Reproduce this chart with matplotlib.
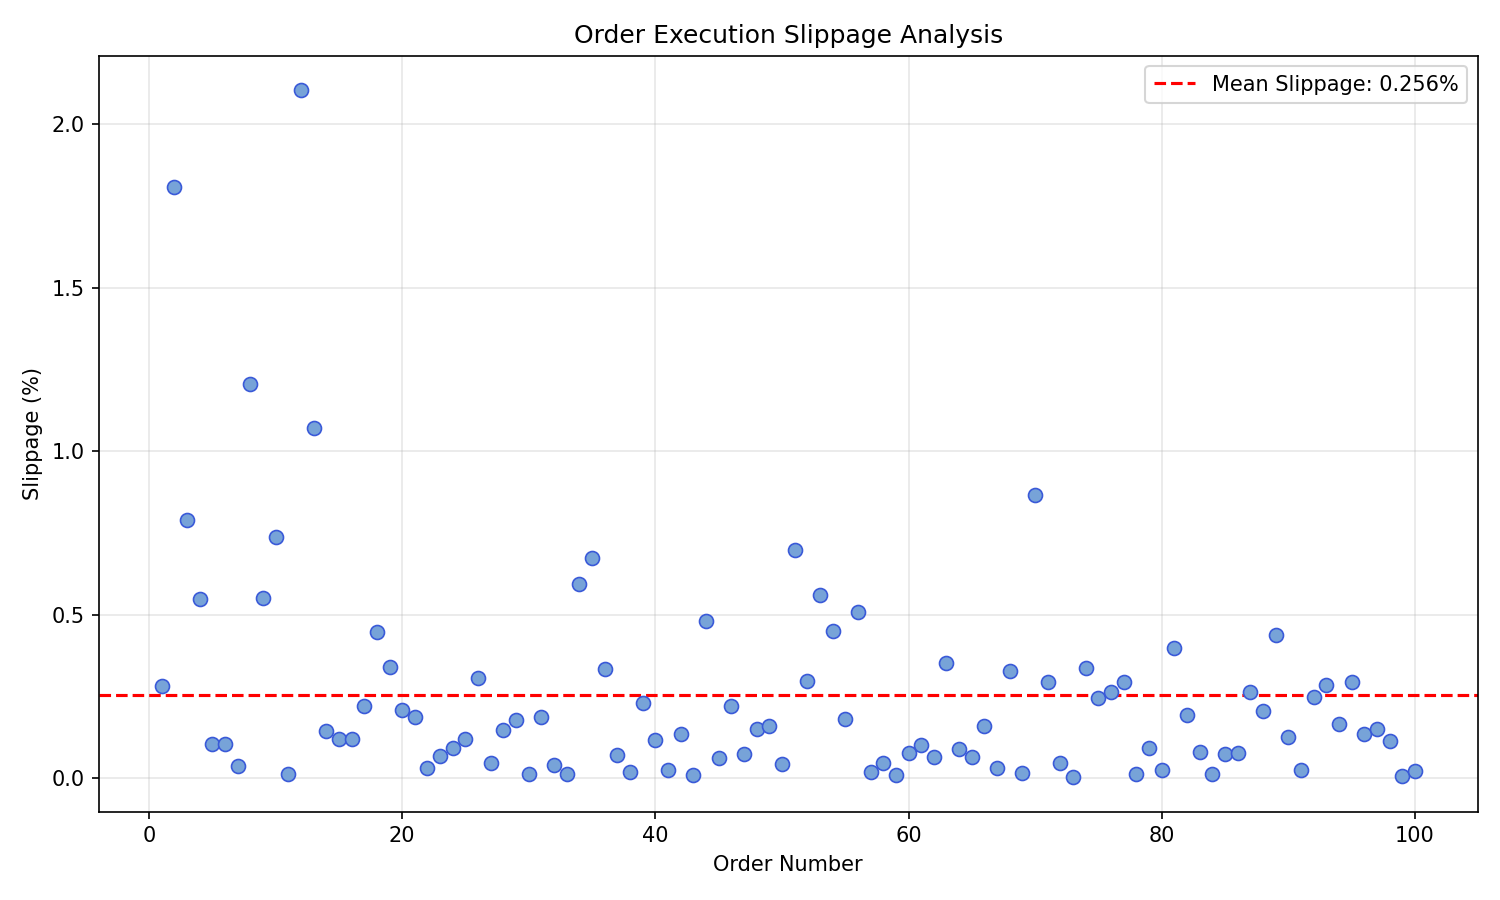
import matplotlib
matplotlib.use("Agg")
import matplotlib.pyplot as plt
import numpy as np

# order numbers and slippage (%)
order_number = np.arange(1, 101)
slippage = [
    0.284, 1.808, 0.791, 0.550, 0.104, 0.104, 0.037, 1.206, 0.553, 0.739,
    0.015, 2.104, 1.072, 0.144, 0.122, 0.122, 0.220, 0.449, 0.342, 0.208,
    0.189, 0.031, 0.070, 0.092, 0.122, 0.308, 0.046, 0.147, 0.180, 0.012,
    0.189, 0.040, 0.015, 0.595, 0.675, 0.333, 0.073, 0.021, 0.232, 0.116,
    0.027, 0.137, 0.009, 0.482, 0.061, 0.220, 0.076, 0.150, 0.159, 0.043,
    0.699, 0.299, 0.562, 0.452, 0.183, 0.510, 0.021, 0.046, 0.009, 0.079,
    0.101, 0.064, 0.354, 0.089, 0.067, 0.159, 0.031, 0.327, 0.018, 0.867,
    0.296, 0.046, 0.003, 0.339, 0.247, 0.263, 0.296, 0.015, 0.092, 0.027,
    0.400, 0.195, 0.082, 0.015, 0.076, 0.079, 0.263, 0.205, 0.437, 0.128,
    0.027, 0.250, 0.287, 0.165, 0.296, 0.137, 0.150, 0.113, 0.006, 0.024,
]
mean_slippage = 0.256

fig, ax = plt.subplots(figsize=(10, 6), dpi=150)

ax.scatter(order_number, slippage, s=45, facecolor="#77a3d8",
           edgecolor="#3a5ad8", linewidth=0.8, zorder=3)
ax.axhline(mean_slippage, color="red", linestyle="--", linewidth=1.5,
           label=f"Mean Slippage: {mean_slippage:.3f}%", zorder=2)

ax.set_title("Order Execution Slippage Analysis")
ax.set_xlabel("Order Number")
ax.set_ylabel("Slippage (%)")
ax.grid(True, alpha=0.3)
ax.legend(loc="upper right")

fig.subplots_adjust(left=0.066, right=0.985, top=0.938, bottom=0.098)
plt.savefig("out.png")
